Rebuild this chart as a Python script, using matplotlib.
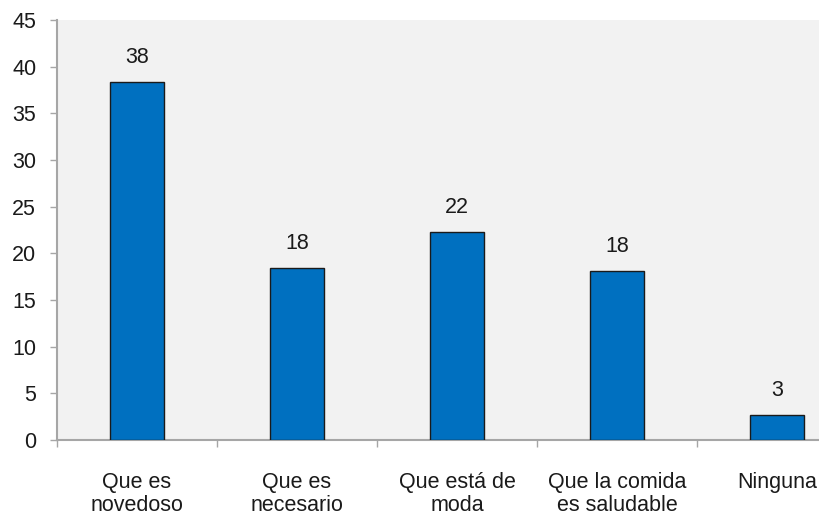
import matplotlib
matplotlib.use("Agg")
import matplotlib.pyplot as plt
from matplotlib import font_manager
import numpy as np

categories = ["Que es\nnovedoso", "Que es\nnecesario", "Que está de\nmoda",
              "Que la comida\nes saludable", "Ninguna"]
values = [38.4, 18.4, 22.3, 18.1, 2.7]
yticks = [0, 5, 10, 15, 20, 25, 30, 35, 40, 45]

names = {f.name for f in font_manager.fontManager.ttflist}
family = ["Liberation Sans Narrow"] if "Liberation Sans Narrow" in names else ["Liberation Sans"]
plt.rcParams["font.family"] = family + ["DejaVu Sans"]

W, H = 819, 517
fig = plt.figure(figsize=(W / 100, H / 100), dpi=100)
fig.patch.set_facecolor("white")

# plot area: y axis at x=57, zero line at y=440, top at y=20, 160 px per category
left, right = 57, 57 + 160 * 5
bottom, top = 440, 20
ax = fig.add_axes([left / W, (H - bottom) / H, (right - left) / W, (bottom - top) / H])
ax.set_facecolor("#F2F2F2")

x = np.arange(len(categories))
bars = ax.bar(x, values, width=0.34, color="#0070C0", edgecolor="#1a1a1a", linewidth=1.0, zorder=3)

for xi, v in zip(x, values):
    ax.annotate(f"{v:.0f}", (xi, v), xytext=(0, 10), textcoords="offset points",
                ha="center", va="bottom", fontsize=15.5, color="#1a1a1a")

ax.set_xlim(-0.5, len(categories) - 0.5)
ax.set_ylim(0, 45)
ax.set_yticks(yticks)
ax.set_yticklabels([str(t) for t in yticks], fontsize=15.5, color="#1a1a1a")

ax.set_xticks(x)
ax.set_xticklabels(categories, fontsize=15.5, color="#1a1a1a", linespacing=1.1)
ax.set_xticks(np.arange(len(categories) + 1) - 0.5, minor=True)
ax.tick_params(axis="x", which="major", length=0, pad=23)
ax.tick_params(axis="x", which="minor", length=5, width=1, color="#A6A6A6", direction="out")
ax.tick_params(axis="y", length=5, width=1, color="#A6A6A6", direction="out", pad=10)

for s in ("top", "right"):
    ax.spines[s].set_visible(False)
for s in ("left", "bottom"):
    ax.spines[s].set_color("#A6A6A6")
    ax.spines[s].set_linewidth(1.5)

fig.savefig("out.png", dpi=100)
